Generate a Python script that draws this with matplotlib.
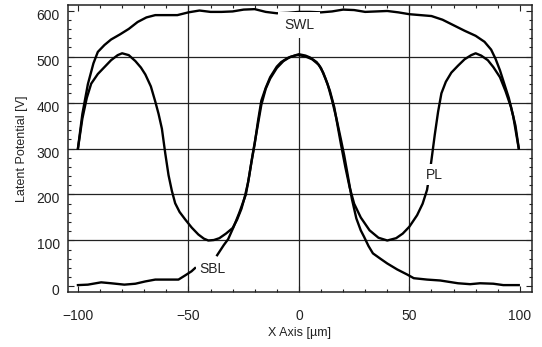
import numpy as np
import matplotlib
matplotlib.use("Agg")
import matplotlib.pyplot as plt
from matplotlib.ticker import MultipleLocator
from matplotlib.transforms import ScaledTranslation

plt.rcParams['font.family'] = ['Liberation Sans', 'DejaVu Sans']

# SWL curve
swl_x = [-100, -98, -95.5, -93, -91, -88, -85, -81, -77, -73, -69, -65, -60, -55, -50, -45,
         -40, -35, -30, -25, -20, -15, -10, -5, 0, 5, 10, 15, 20, 25, 30, 35, 40, 45, 50,
         55, 60, 65, 70, 75, 80, 84, 87, 89, 91, 93, 95, 97, 99.5]
swl_y = [300, 375, 440, 485, 510, 525, 537, 548, 560, 575, 585, 590, 590, 590, 596, 600,
         597, 597, 598, 602, 603, 597, 594, 595, 597, 597, 596, 598, 602, 601, 597, 598, 599, 596, 592,
         590, 588, 580, 568, 556, 545, 532, 515, 495, 470, 440, 410, 370, 300]

# PL curve
pl_x = [-100, -98, -96, -94, -91, -88, -85, -82, -80, -77, -74, -71.5, -69.5, -67, -65, -63.5,
        -62, -60.5, -59, -57.5, -56, -54, -51.5, -48.5, -45.5, -43, -41, -38.5, -36, -33, -30,
        -28, -26, -24.5, -23, -21.5, -20, -18.5, -17, -15, -13, -10, -8, -5, -2, 0, 3, 5, 8,
        10, 12, 14, 16, 17.5, 19, 21, 23, 25, 28, 32, 36, 40, 44, 47, 50, 53.5, 56, 58, 59,
        60, 61.5, 63, 64.5, 66.5, 69, 72, 75, 78, 80, 82.5, 85.5, 88, 91, 93.5, 96, 98, 99.5]
pl_y = [300, 365, 410, 441, 462, 477, 492, 503, 507, 503, 490, 476, 461, 435, 402, 375,
        343, 290, 242, 208, 181, 162, 146, 128, 113, 104, 100, 101, 105, 115, 127,
        145, 169, 195, 226, 270, 310, 360, 404, 432, 455, 478, 488, 497, 502, 505, 502, 498, 488,
        475, 452, 426, 390, 350, 310, 260, 215, 180, 150, 122, 106, 100, 105, 115, 130, 155, 180, 210, 240,
        275, 330, 380, 420, 445, 465, 480, 494, 503, 507, 502, 492, 477, 455, 425, 390, 350, 301]

# SBL curve (gap at label)
sbl_x = [-100, -95.5, -89.5, -85, -79, -74, -69.5, -65, -60.5, -54.5, -51.5, -48.6, -47,
         -42, -37, -34, -32, -29.5, -27, -24, -22.5, -21, -19, -17, -15, -13, -10, -7, -4,
         -1, 0, 3, 6, 9, 11, 13, 15, 17, 19, 20.5, 22, 24, 26, 28, 29.5, 31.5, 33.5, 37, 40,
         44.5, 49, 52, 58, 64, 68, 72, 77.5, 82, 88, 92.5, 99.5]
sbl_y = [3, 4, 9, 7, 4, 6, 11, 15, 15, 15, 24, 33, 40,
         np.nan, 68, 90, 103, 130, 160, 200, 240, 285, 340, 395, 430, 452, 475, 490, 499,
         503, 503, 500, 494, 482, 465, 440, 405, 365, 320, 285, 245, 190, 148, 122, 108, 88, 72, 60, 50,
         37, 26, 18, 15, 13, 10, 7, 5, 7, 6, 3, 3]

grid_x = [-50, 0, 50]
grid_y = [100, 200, 300, 400, 500]
xticks = [-100, -50, 0, 50, 100]
yticks = [0, 100, 200, 300, 400, 500, 600]

fig = plt.figure(figsize=(5.42, 3.47), dpi=100)
ax = fig.add_axes([68/542, 55/347, 464/542, 287/347])

for gx in grid_x:
    ax.axvline(gx, color='#222222', lw=0.9, zorder=1)
for gy in grid_y:
    ax.axhline(gy, color='#222222', lw=0.9, zorder=1)

lw = 1.7
ax.plot(swl_x, swl_y, color='black', lw=lw, zorder=2)
ax.plot(pl_x, pl_y, color='black', lw=lw, zorder=2)
ax.plot(sbl_x, sbl_y, color='black', lw=lw, zorder=2)

box = dict(facecolor='white', edgecolor='none', boxstyle='square,pad=0.25')
ax.text(0, 568, 'SWL', ha='center', va='center', fontsize=10, color='#222222', zorder=5,
        bbox=dict(facecolor='white', edgecolor='none', boxstyle='square,pad=0.45'))
ax.text(61.5, 243, 'PL', ha='center', va='center', fontsize=10, color='#222222', zorder=5, bbox=box)
ax.text(-39, 37, 'SBL', ha='center', va='center', fontsize=10, color='#222222', zorder=5, bbox=box)

ax.set_xlim(-104.5, 105.5)
ax.set_ylim(-12, 612)
ax.set_xticks(xticks)
ax.set_yticks(yticks)
ax.xaxis.set_minor_locator(MultipleLocator(10))
ax.yaxis.set_minor_locator(MultipleLocator(20))
ax.tick_params(which='both', direction='in', top=True, right=True, color='#222222')
ax.tick_params(which='major', length=4, width=0.8, labelsize=10, labelcolor='#222222')
ax.tick_params(which='minor', length=2, width=0.8)
ax.tick_params(axis='x', which='major', pad=12)
ax.tick_params(axis='y', which='major', pad=6)
for lab in ax.get_yticklabels():
    lab.set_transform(lab.get_transform() + ScaledTranslation(0, -3.5/100, fig.dpi_scale_trans))
for s in ax.spines.values():
    s.set_linewidth(1.1)
    s.set_color('#222222')

ax.set_xlabel('X Axis [\u00b5m]', fontsize=9, color='#222222', labelpad=3)
ax.set_ylabel('Latent Potential [V]', fontsize=9, color='#222222', labelpad=6)

fig.savefig('out.png', dpi=100)
